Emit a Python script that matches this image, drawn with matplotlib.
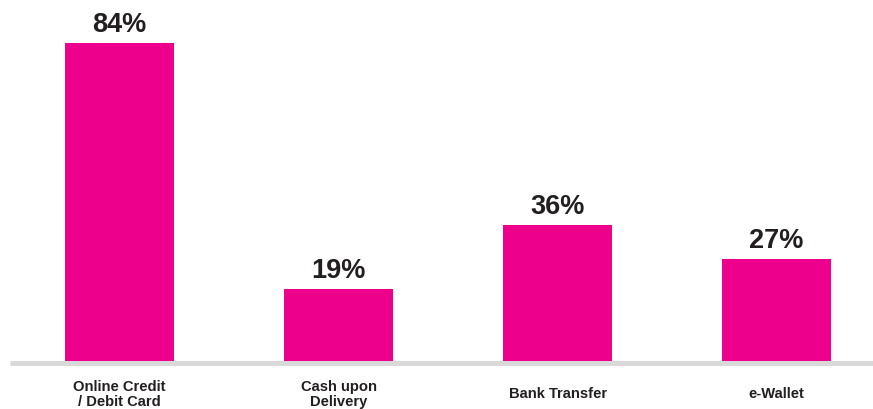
import matplotlib
matplotlib.use("Agg")
import matplotlib.pyplot as plt

categories = ["Online Credit\n/ Debit Card", "Cash upon\nDelivery", "Bank Transfer", "e-Wallet"]
values = [84, 19, 36, 27]

BAR_COLOR = "#EC008C"
TEXT_COLOR = "#231F20"
LINE_COLOR = "#D9D9D9"

plt.rcParams["font.family"] = ["Liberation Sans", "DejaVu Sans"]

W, H = 873, 409
fig = plt.figure(figsize=(W / 100, H / 100), dpi=100)
# axes spans from the baseline up to the top edge, from x=10px to the right edge
ax = fig.add_axes([10 / W, (H - 361) / H, 1 - 10 / W, 361 / H])
ax.set_xlim(-0.5, 3.44)
ax.set_ylim(0, 95.4)
ax.axis("off")

x = list(range(len(values)))
ax.bar(x, values, width=0.5, color=BAR_COLOR, zorder=2)
ax.axhline(-0.45, color=LINE_COLOR, linewidth=3.6, zorder=1, clip_on=False,
           solid_capstyle="butt")

for xi, v in zip(x, values):
    ax.annotate(f"{v}%", (xi, v), xytext=(0, 8), textcoords="offset points",
                ha="center", va="baseline", fontsize=19.5, fontweight="bold",
                color=TEXT_COLOR)

for xi, lab in zip(x, categories):
    ax.annotate(lab, (xi, 0), xytext=(0, -24), textcoords="offset points",
                ha="center", va="center", fontsize=10.6, fontweight="bold",
                color=TEXT_COLOR, linespacing=1.15, annotation_clip=False)

fig.savefig("out.png", dpi=100)
